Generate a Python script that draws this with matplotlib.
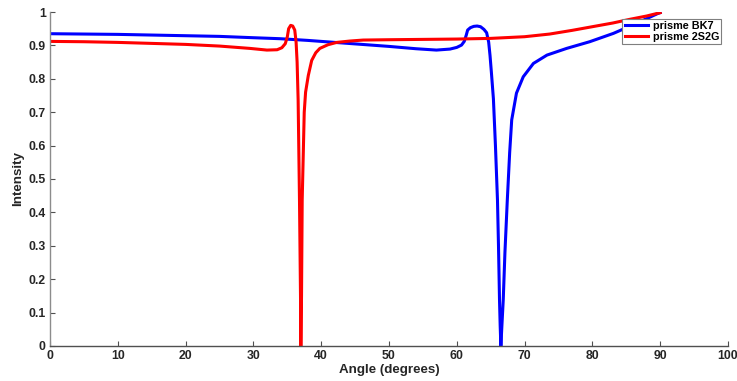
import matplotlib
matplotlib.use("Agg")
import matplotlib.pyplot as plt

# ---------------------------------------------------------------------------
# Reflected intensity vs. incidence angle for the two prisms
# ---------------------------------------------------------------------------

bk7_angle = [0, 5, 10, 15, 20, 25, 30, 34, 38, 42, 46, 50, 54, 57, 59, 60,
             60.7, 61.1, 61.4, 61.6, 62.0, 62.5, 63.0, 63.5, 64.0, 64.4,
             64.7, 64.9, 65.1, 65.4, 65.7, 66.0, 66.15, 66.3, 66.4, 66.5,
             66.65, 66.85, 67.1, 67.45, 67.8, 68.1, 68.8, 69.8, 71.3, 73.3,
             76.2, 79.6, 83.1, 86.5, 89.7, 90]
bk7_intensity = [0.935, 0.934, 0.933, 0.931, 0.929, 0.927, 0.923, 0.920,
                 0.915, 0.909, 0.903, 0.897, 0.890, 0.886, 0.889, 0.894,
                 0.901, 0.912, 0.931, 0.946, 0.953, 0.957, 0.958, 0.956,
                 0.948, 0.938, 0.910, 0.870, 0.820, 0.740, 0.600, 0.437,
                 0.300, 0.138, 0.060, 0.0, 0.060, 0.138, 0.280, 0.437,
                 0.580, 0.677, 0.757, 0.806, 0.846, 0.871, 0.891, 0.911,
                 0.936, 0.966, 0.996, 0.998]

s2g_angle = [0, 5, 10, 15, 20, 25, 29.5, 32, 33.5, 34.2, 34.7, 35.0, 35.2,
             35.5, 35.8, 36.1, 36.3, 36.45, 36.6, 36.8, 36.95, 37.0, 37.1,
             37.2, 37.5, 37.7, 38.1, 38.6, 39.2, 39.8, 41.0, 42.3, 44.2,
             46.2, 50, 55, 60, 65, 70, 73.7, 77, 80, 83, 85.5, 88, 90]
s2g_intensity = [0.912, 0.911, 0.909, 0.906, 0.903, 0.898, 0.891, 0.886,
                 0.887, 0.893, 0.905, 0.925, 0.950, 0.960, 0.958, 0.946,
                 0.910, 0.850, 0.737, 0.437, 0.150, 0.0, 0.150, 0.437,
                 0.700, 0.760, 0.810, 0.855, 0.878, 0.891, 0.902, 0.909,
                 0.913, 0.916, 0.917, 0.918, 0.919, 0.921, 0.926, 0.934,
                 0.945, 0.956, 0.967, 0.978, 0.988, 0.998]

x_ticks = list(range(0, 101, 10))
y_ticks = [i / 10 for i in range(11)]
y_tick_labels = ["0", "0.1", "0.2", "0.3", "0.4", "0.5", "0.6", "0.7", "0.8", "0.9", "1"]

plt.rcParams["font.family"] = ["Liberation Sans", "DejaVu Sans"]
plt.rcParams["font.weight"] = "bold"

fig = plt.figure(figsize=(7.37, 3.81), dpi=100)
ax = fig.add_axes([0.0678, 0.0919, 0.920, 0.8766])

ax.plot(bk7_angle, bk7_intensity, color="#0000ff", linewidth=2.2, label="prisme BK7")
ax.plot(s2g_angle, s2g_intensity, color="#ff0000", linewidth=2.2, label="prisme 2S2G")

ax.set_xlim(0, 100)
ax.set_ylim(0, 1)
ax.set_xticks(x_ticks)
ax.set_yticks(y_ticks)
ax.set_yticklabels(y_tick_labels)

for side in ("top", "right"):
    ax.spines[side].set_visible(False)
ax.spines["left"].set_color("#8c8c8c")
ax.spines["bottom"].set_color("#505050")
for side in ("left", "bottom"):
    ax.spines[side].set_linewidth(1.0)

ax.tick_params(direction="in", length=3.5, width=0.8, color="#505050",
               labelsize=8.8, labelcolor="#262626", pad=3)
for lbl in ax.get_xticklabels() + ax.get_yticklabels():
    lbl.set_fontweight("bold")

ax.set_xlabel("Angle (degrees)", fontsize=9.6, fontweight="bold", color="#262626", labelpad=1)
ax.set_ylabel("Intensity", fontsize=9.6, fontweight="bold", color="#262626", labelpad=3)

leg = ax.legend(loc="upper right", bbox_to_anchor=(0.990, 0.979), borderaxespad=0,
                fancybox=False, framealpha=1, edgecolor="#7f7f7f",
                prop={"size": 7.8, "weight": "bold"}, handlelength=2.2,
                handletextpad=0.4, borderpad=0.2, labelspacing=0.1)
leg.get_frame().set_linewidth(0.8)

fig.savefig("out.png", dpi=100)
